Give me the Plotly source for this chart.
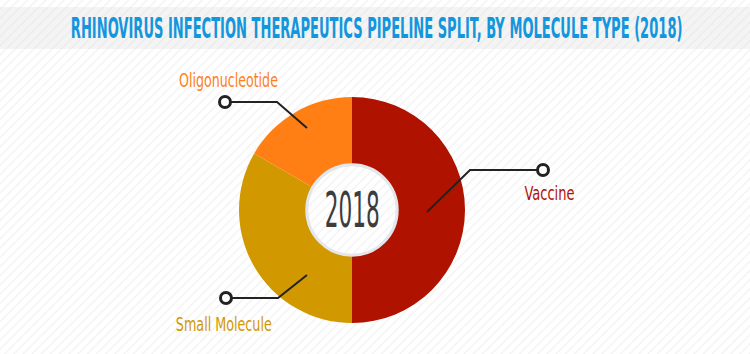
import json
import plotly.graph_objects as go

# ---- data ----
categories = ["Vaccine", "Small Molecule", "Oligonucleotide"]
values = [3, 2, 1]
colors = ["#b01200", "#d29800", "#ff7f14"]
center_label = "2018"
title_text = "RHINOVIRUS INFECTION THERAPEUTICS PIPELINE SPLIT, BY MOLECULE TYPE (2018)"

W, H = 750, 354
CX, CY, R = 352, 210, 113
FONT = "DejaVu Sans Condensed, DejaVu Sans, sans-serif"

fig = go.Figure()

# hatched page background
fig.add_trace(go.Scatter(
    x=[0, W, W, 0, 0], y=[0, 0, H, H, 0], mode="lines", fill="toself",
    line=dict(width=0), fillcolor="white",
    fillpattern=dict(shape="/", fgcolor="#e6e6e6", bgcolor="white", size=6.5, solidity=0.22),
    hoverinfo="skip", showlegend=False, xaxis="x", yaxis="y"))
# title banner
fig.add_trace(go.Scatter(
    x=[0, W, W, 0, 0], y=[7, 7, 49, 49, 7], mode="lines", fill="toself",
    line=dict(width=0), fillcolor="#f3f3f3",
    fillpattern=dict(shape="/", fgcolor="#e2e2e2", bgcolor="#f4f4f4", size=6.5, solidity=0.22),
    hoverinfo="skip", showlegend=False, xaxis="x", yaxis="y"))

fig.add_trace(go.Pie(
    labels=categories, values=values, marker=dict(colors=colors, line=dict(width=0)),
    sort=False, direction="clockwise", rotation=0, hole=0.40,
    textinfo="none", hoverinfo="skip", showlegend=False,
    domain=dict(x=[(CX - R) / W, (CX + R) / W], y=[1 - (CY + R) / H, 1 - (CY - R) / H])))

shapes = []
# light outer ring behind pie
shapes.append(dict(type="circle", xref="x", yref="y", x0=CX - R - 3, x1=CX + R + 3,
                   y0=CY - R - 3, y1=CY + R + 3, fillcolor="#e6e8ec", line=dict(width=0),
                   layer="below"))
# inner ring outline
ri = R * 0.40
shapes.append(dict(type="circle", xref="x", yref="y", x0=CX - ri, x1=CX + ri,
                   y0=CY - ri, y1=CY + ri, line=dict(color="#e3e6eb", width=3),
                   layer="above"))

# leader lines (decoration)
leaders = [
    (225, 102, 277, 102, 307, 128),
    (543, 170, 470, 170, 427, 212),
    (226, 298, 278, 298, 307, 275),
]
for dx, dy, ex, ey, tx, ty in leaders:
    shapes.append(dict(type="path", xref="x", yref="y",
                       path=f"M {dx},{dy} L {ex},{ey} L {tx},{ty}",
                       line=dict(color="#222222", width=2), layer="above"))
    shapes.append(dict(type="circle", xref="x", yref="y", x0=dx - 5.5, x1=dx + 5.5,
                       y0=dy - 5.5, y1=dy + 5.5, fillcolor="white",
                       line=dict(color="#222222", width=3), layer="above"))

label_pos = {"Vaccine": (549.5, 193), "Small Molecule": (224, 324), "Oligonucleotide": (228, 80)}
label_width = {"Vaccine": 50, "Small Molecule": 96, "Oligonucleotide": 99}
annotations = []
target_widths = []
for cat, col in zip(categories, colors):
    x, y = label_pos[cat]
    annotations.append(dict(x=x, y=y, xref="x", yref="y", text=cat, showarrow=False,
                            font=dict(family=FONT, size=20, color=col),
                            xanchor="center", yanchor="middle"))
    target_widths.append(label_width[cat])
annotations.append(dict(x=CX, y=CY, xref="x", yref="y", text=center_label, showarrow=False,
                        font=dict(family=FONT, size=50, color="#3c3c3c"),
                        xanchor="center", yanchor="middle"))
target_widths.append(55)
annotations.append(dict(x=376, y=28, xref="x", yref="y", text=f"<b>{title_text}</b>", showarrow=False,
                        font=dict(family=FONT, size=29, color="#1496dc"),
                        xanchor="center", yanchor="middle"))
target_widths.append(612)

fig.update_layout(
    width=W, height=H, margin=dict(l=0, r=0, t=0, b=0),
    paper_bgcolor="white", plot_bgcolor="white",
    xaxis=dict(range=[0, W], visible=False, fixedrange=True, domain=[0, 1]),
    yaxis=dict(range=[H, 0], visible=False, fixedrange=True, domain=[0, 1]),
    shapes=shapes, annotations=annotations, showlegend=False,
)

# condense the text horizontally (fonts like the original's condensed face are not installed)
post = """
(function(){
  var targets = %s;
  var gd = document.getElementById('{plot_id}');
  function squeeze(){
    targets.forEach(function(w, i){
      var g = gd.querySelector('g.annotation[data-index="' + i + '"]');
      if(!g) return;
      var t = g.querySelector('text.annotation-text');
      if(!t) return;
      t.style.transform = 'none';
      var bb = t.getBBox();
      var s = w / bb.width;
      t.style.transformBox = 'fill-box';
      t.style.transformOrigin = 'center';
      t.style.transform = 'scaleX(' + s + ')';
    });
  }
  squeeze();
  gd.on && gd.on('plotly_afterplot', squeeze);
})();
""" % json.dumps(target_widths)

fig.write_html("out.html", post_script=post)
